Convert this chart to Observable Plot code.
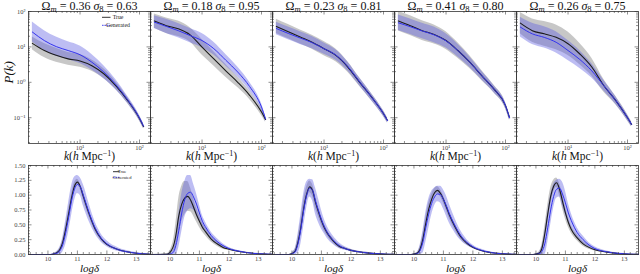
<!DOCTYPE html>
<html><head><meta charset="utf-8">
<script src="https://cdn.jsdelivr.net/npm/d3@7"></script>
<script src="https://cdn.jsdelivr.net/npm/@observablehq/plot@0.6"></script>
<style>
body{margin:0;background:#fff;width:640px;height:274px;overflow:hidden}
#c svg{display:block}
</style></head><body><div id="c"></div>
<script>
// ---------- data ----------
const omegaM = ["0.36", "0.18", "0.23", "0.41", "0.26"];
const sigma8 = ["0.63", "0.95", "0.81", "0.80", "0.75"];
const titles = omegaM.map((o, i) => `Ωm = ${o} σ8 = ${sigma8[i]}`);
const seriesNames = ["True", "Generated"];

// power spectrum (top row)
const kValues = [1.58, 2.51, 3.98, 6.31, 10, 15.8, 25.1, 39.8, 63.1, 100, 117];
const pkTrue = [
  [12.6, 7.9, 5.8, 4.6, 4.0, 2.95, 1.74, 0.81, 0.31, 0.095, 0.056],
  [53.7, 39.8, 32.4, 21.9, 9.8, 4.6, 2.1, 1.0, 0.43, 0.145, 0.089],
  [38.0, 26.9, 19.1, 13.5, 8.9, 5.75, 2.7, 1.0, 0.38, 0.13, 0.083],
  [53.7, 39.8, 28.8, 22.4, 15.1, 7.9, 3.7, 1.55, 0.66, 0.22, 0.10],
  [46.8, 28.8, 23.4, 18.6, 12.3, 6.3, 2.7, 0.81, 0.31, 0.10, 0.065]
];
const pkGen = [
  [26.3, 15.1, 10.2, 7.9, 6.0, 3.7, 1.95, 0.87, 0.32, 0.098, 0.058],
  [50.1, 38.0, 28.8, 20.9, 15.1, 8.9, 4.2, 1.95, 0.76, 0.20, 0.093],
  [33.1, 24.0, 17.8, 13.2, 8.9, 5.9, 2.8, 1.02, 0.38, 0.13, 0.083],
  [47.9, 37.2, 28.2, 21.9, 14.8, 7.9, 3.7, 1.55, 0.66, 0.22, 0.10],
  [36.3, 23.4, 18.6, 13.5, 7.9, 4.4, 2.1, 0.81, 0.31, 0.10, 0.065]
];
// band half-widths in dex
const pkTrueSpread = [
  [0.18, 0.2, 0.2, 0.18, 0.18, 0.16, 0.14, 0.11, 0.09, 0.07, 0.06],
  [0.2, 0.22, 0.22, 0.2, 0.22, 0.2, 0.18, 0.15, 0.12, 0.1, 0.08],
  [0.2, 0.2, 0.2, 0.2, 0.2, 0.18, 0.15, 0.12, 0.1, 0.08, 0.07],
  [0.28, 0.28, 0.28, 0.27, 0.25, 0.22, 0.18, 0.14, 0.11, 0.09, 0.07],
  [0.3, 0.33, 0.35, 0.35, 0.33, 0.3, 0.25, 0.18, 0.12, 0.09, 0.07]
];
const pkGenSpread = [
  [0.28, 0.28, 0.27, 0.25, 0.25, 0.22, 0.18, 0.14, 0.1, 0.08, 0.07],
  [0.18, 0.2, 0.2, 0.2, 0.2, 0.18, 0.16, 0.14, 0.12, 0.1, 0.08],
  [0.18, 0.18, 0.18, 0.17, 0.16, 0.15, 0.13, 0.11, 0.1, 0.08, 0.07],
  [0.22, 0.22, 0.22, 0.22, 0.2, 0.18, 0.15, 0.12, 0.1, 0.08, 0.07],
  [0.28, 0.3, 0.3, 0.3, 0.28, 0.25, 0.2, 0.15, 0.11, 0.08, 0.07]
];

// density PDF (bottom row)
const logDelta = [9.34, 9.9, 10.1, 10.2, 10.3, 10.4, 10.5, 10.6, 10.7, 10.8, 10.9, 11.0, 11.1, 11.2, 11.4, 11.6, 11.8, 12.0, 12.4, 12.8, 13.2, 13.48];
const pdfTrue = [
  [0, 0, 0, 0.01, 0.03, 0.08, 0.2, 0.42, 0.68, 0.95, 1.15, 1.22, 1.14, 0.98, 0.68, 0.43, 0.27, 0.17, 0.08, 0.035, 0.012, 0.004],
  [0, 0.005, 0.12, 0.32, 0.65, 0.85, 0.95, 0.98, 0.92, 0.8, 0.67, 0.56, 0.46, 0.39, 0.26, 0.18, 0.12, 0.09, 0.045, 0.02, 0.008, 0.003],
  [0, 0, 0.05, 0.2, 0.45, 0.78, 1.02, 1.14, 1.08, 0.88, 0.72, 0.57, 0.45, 0.36, 0.23, 0.14, 0.1, 0.07, 0.035, 0.015, 0.005, 0.002],
  [0, 0, 0.02, 0.08, 0.25, 0.52, 0.76, 0.93, 1.04, 1.08, 1.03, 0.93, 0.8, 0.67, 0.46, 0.29, 0.19, 0.12, 0.05, 0.02, 0.007, 0.002],
  [0, 0, 0.02, 0.1, 0.35, 0.68, 0.98, 1.15, 1.21, 1.1, 0.9, 0.7, 0.54, 0.42, 0.28, 0.18, 0.12, 0.08, 0.04, 0.015, 0.005, 0.002]
];
const pdfGen = [
  [0, 0, 0, 0.01, 0.02, 0.06, 0.16, 0.36, 0.62, 0.9, 1.1, 1.18, 1.14, 1.0, 0.7, 0.45, 0.28, 0.18, 0.08, 0.035, 0.012, 0.004],
  [0, 0, 0.03, 0.15, 0.4, 0.7, 0.92, 1.03, 1.05, 0.97, 0.85, 0.7, 0.56, 0.47, 0.32, 0.22, 0.15, 0.1, 0.05, 0.02, 0.008, 0.003],
  [0, 0, 0.04, 0.17, 0.42, 0.75, 1.0, 1.12, 1.08, 0.9, 0.74, 0.59, 0.47, 0.37, 0.24, 0.15, 0.1, 0.07, 0.035, 0.015, 0.005, 0.002],
  [0, 0, 0.01, 0.06, 0.2, 0.45, 0.68, 0.86, 0.97, 1.02, 1.01, 0.93, 0.82, 0.69, 0.48, 0.31, 0.2, 0.13, 0.055, 0.02, 0.007, 0.002],
  [0, 0, 0.01, 0.05, 0.18, 0.45, 0.75, 0.98, 1.1, 1.12, 1.02, 0.87, 0.7, 0.57, 0.37, 0.25, 0.16, 0.1, 0.045, 0.018, 0.006, 0.002]
];
const pdfTrueSpread = [
  [0, 0, 0, 0.005, 0.01, 0.02, 0.04, 0.06, 0.07, 0.07, 0.06, 0.05, 0.05, 0.06, 0.05, 0.04, 0.03, 0.02, 0.01, 0.005, 0.003, 0.001],
  [0, 0.01, 0.08, 0.2, 0.3, 0.3, 0.28, 0.25, 0.2, 0.15, 0.12, 0.1, 0.08, 0.07, 0.05, 0.04, 0.03, 0.02, 0.01, 0.005, 0.003, 0.001],
  [0, 0, 0.03, 0.08, 0.12, 0.14, 0.12, 0.1, 0.1, 0.1, 0.08, 0.07, 0.06, 0.05, 0.04, 0.03, 0.02, 0.015, 0.01, 0.005, 0.002, 0.001],
  [0, 0, 0.01, 0.04, 0.08, 0.1, 0.1, 0.08, 0.07, 0.06, 0.06, 0.06, 0.06, 0.06, 0.05, 0.04, 0.03, 0.02, 0.01, 0.005, 0.002, 0.001],
  [0, 0, 0.02, 0.06, 0.12, 0.15, 0.14, 0.1, 0.08, 0.1, 0.12, 0.1, 0.08, 0.06, 0.05, 0.04, 0.03, 0.02, 0.01, 0.005, 0.002, 0.001]
];
const pdfGenSpread = [
  [0, 0, 0, 0.01, 0.03, 0.06, 0.12, 0.2, 0.25, 0.25, 0.2, 0.15, 0.15, 0.18, 0.15, 0.1, 0.07, 0.05, 0.03, 0.015, 0.006, 0.002],
  [0, 0.005, 0.04, 0.15, 0.28, 0.32, 0.3, 0.3, 0.28, 0.22, 0.18, 0.14, 0.1, 0.08, 0.06, 0.05, 0.03, 0.02, 0.01, 0.005, 0.003, 0.001],
  [0, 0, 0.05, 0.15, 0.25, 0.28, 0.22, 0.15, 0.18, 0.22, 0.2, 0.16, 0.12, 0.1, 0.07, 0.05, 0.03, 0.02, 0.01, 0.005, 0.002, 0.001],
  [0, 0, 0.02, 0.08, 0.18, 0.25, 0.25, 0.2, 0.15, 0.13, 0.14, 0.16, 0.17, 0.16, 0.12, 0.08, 0.05, 0.03, 0.015, 0.006, 0.002, 0.001],
  [0, 0, 0.02, 0.08, 0.18, 0.25, 0.25, 0.2, 0.15, 0.15, 0.2, 0.2, 0.16, 0.12, 0.08, 0.06, 0.04, 0.03, 0.015, 0.006, 0.002, 0.001]
];

// ticks & labels
const pkXTicks = [10, 100];
const pkXTickLabels = ["10¹", "10²"];
const pkXMinor = [2,3,4,5,6,7,8,9,20,30,40,50,60,70,80,90];
const pkYTicks = [0.1, 1, 10, 100];
const pkYTickLabels = ["10⁻¹", "10⁰", "10¹", "10²"];
const pkYMinor = [0.02,0.03,0.04,0.05,0.06,0.07,0.08,0.09,0.2,0.3,0.4,0.5,0.6,0.7,0.8,0.9,2,3,4,5,6,7,8,9,20,30,40,50,60,70,80,90];
const pdfXTicks = [10, 11, 12, 13];
const pdfXTickLabels = ["10", "11", "12", "13"];
const pdfXMinor = [9.4,9.6,9.8,10.2,10.4,10.6,10.8,11.2,11.4,11.6,11.8,12.2,12.4,12.6,12.8,13.2,13.4];
const pdfYTicks = [0, 0.25, 0.5, 0.75, 1.0, 1.25, 1.5];
const pdfYTickLabels = ["0.00", "0.25", "0.50", "0.75", "1.00", "1.25", "1.50"];
const pdfYMinor = [0.05,0.1,0.15,0.2,0.3,0.35,0.4,0.45,0.55,0.6,0.65,0.7,0.8,0.85,0.9,0.95,1.05,1.1,1.15,1.2,1.3,1.35,1.4,1.45];
const kLabel = "k(h Mpc⁻¹)";
const pLabel = "P(k)";
const dLabel = "logδ";

// ---------- style ----------
const GRAY = "#999999", BLUE_FILL = "#5a5ae0", BLACK = "#1c1c1c", BLUE = "#3434ee";
const FONT = "'Liberation Serif', 'DejaVu Serif', serif";
const ML = 28, MR = 2, PW = 122;

const topRows = [];
omegaM.forEach((t, i) => kValues.forEach((k, j) => {
  topRows.push({
    panel: i, k,
    t: pkTrue[i][j], g: pkGen[i][j],
    tLo: pkTrue[i][j] / 10 ** pkTrueSpread[i][j], tHi: pkTrue[i][j] * 10 ** pkTrueSpread[i][j],
    gLo: pkGen[i][j] / 10 ** pkGenSpread[i][j], gHi: pkGen[i][j] * 10 ** pkGenSpread[i][j]
  });
}));
const botRows = [];
omegaM.forEach((t, i) => logDelta.forEach((x, j) => {
  botRows.push({
    panel: i, x,
    t: pdfTrue[i][j], g: pdfGen[i][j],
    tLo: Math.max(0, pdfTrue[i][j] - pdfTrueSpread[i][j]), tHi: pdfTrue[i][j] + pdfTrueSpread[i][j],
    gLo: Math.max(0, pdfGen[i][j] - pdfGenSpread[i][j]), gHi: pdfGen[i][j] + pdfGenSpread[i][j]
  });
}));

function inwardTicks(xMaj, xMin, yMaj, yMin, fh) {
  const tk = {stroke: "#444", strokeWidth: 0.6};
  return [
    Plot.tickX(xMaj, {x: d => d, insetTop: fh - 3.5, ...tk}),
    Plot.tickX(xMaj, {x: d => d, insetBottom: fh - 3.5, ...tk}),
    Plot.tickX(xMin, {x: d => d, insetTop: fh - 2, ...tk}),
    Plot.tickX(xMin, {x: d => d, insetBottom: fh - 2, ...tk}),
    Plot.tickY(yMaj, {y: d => d, insetRight: PW - 3.5, ...tk}),
    Plot.tickY(yMaj, {y: d => d, insetLeft: PW - 3.5, ...tk}),
    Plot.tickY(yMin, {y: d => d, insetRight: PW - 2, ...tk}),
    Plot.tickY(yMin, {y: d => d, insetLeft: PW - 2, ...tk})
  ];
}

const TOP_H = 163, TOP_MT = 11, TOP_MB = 20;
const topPlot = Plot.plot({
  width: 640, height: TOP_H, marginTop: TOP_MT, marginBottom: TOP_MB, marginLeft: ML, marginRight: MR,
  style: {fontFamily: FONT, fontSize: "6.5px", background: "transparent", color: "#222", overflow: "visible"},
  fx: {domain: d3.range(omegaM.length), padding: 0},
  x: {type: "log", domain: [1.36, 153]},
  y: {type: "log", domain: [0.0187, 100]},
  marks: [
    Plot.areaY(topRows, {fx: "panel", x: "k", y1: "tLo", y2: "tHi", fill: GRAY, fillOpacity: 0.55, curve: "monotone-x"}),
    Plot.areaY(topRows, {fx: "panel", x: "k", y1: "gLo", y2: "gHi", fill: BLUE_FILL, fillOpacity: 0.4, curve: "monotone-x"}),
    Plot.lineY(topRows, {fx: "panel", x: "k", y: "t", stroke: BLACK, strokeWidth: 1.1, curve: "monotone-x"}),
    Plot.lineY(topRows, {fx: "panel", x: "k", y: "g", stroke: BLUE, strokeWidth: 1, curve: "monotone-x"}),
    ...inwardTicks(pkXTicks, pkXMinor, pkYTicks, pkYMinor, TOP_H - TOP_MT - TOP_MB),
    Plot.frame({stroke: "#333", strokeWidth: 0.8}),
    Plot.axisX({ticks: pkXTicks, tickFormat: d => pkXTickLabels[pkXTicks.indexOf(d)], tickSize: 0, tickPadding: 1.5, label: null, fill: "#444"}),
    Plot.axisY({ticks: pkYTicks, tickFormat: d => pkYTickLabels[pkYTicks.indexOf(d)], tickSize: 0, tickPadding: 3, label: null, fill: "#444"}),
    Plot.axisFx({anchor: "top", tickSize: 0, tickPadding: 1.5, tickFormat: i => titles[i], label: null, fontSize: 12, fill: "#111"}),
    Plot.text([kLabel], {text: d => d, frameAnchor: "bottom", dy: 16.5, fontSize: 11.5, fill: "#111"}),
    Plot.text([pLabel], {fx: () => 0, text: d => d, frameAnchor: "left", dx: -20, dy: 6, rotate: -90, fontSize: 13, fontStyle: "italic", fill: "#111"})
  ]
});

const BOT_H = 111, BOT_MT = 2, BOT_MB = 20;
const botPlot = Plot.plot({
  width: 640, height: BOT_H, marginTop: BOT_MT, marginBottom: BOT_MB, marginLeft: ML, marginRight: MR,
  style: {fontFamily: FONT, fontSize: "6.5px", background: "transparent", color: "#222"},
  fx: {domain: d3.range(omegaM.length), padding: 0, axis: null},
  x: {domain: [9.34, 13.48]},
  y: {domain: [0, 1.5]},
  marks: [
    Plot.areaY(botRows, {fx: "panel", x: "x", y1: "tLo", y2: "tHi", fill: GRAY, fillOpacity: 0.55, curve: "monotone-x"}),
    Plot.areaY(botRows, {fx: "panel", x: "x", y1: "gLo", y2: "gHi", fill: BLUE_FILL, fillOpacity: 0.4, curve: "monotone-x"}),
    Plot.lineY(botRows, {fx: "panel", x: "x", y: "t", stroke: BLACK, strokeWidth: 1.1, curve: "monotone-x"}),
    Plot.lineY(botRows, {fx: "panel", x: "x", y: "g", stroke: BLUE, strokeWidth: 1, curve: "monotone-x"}),
    ...inwardTicks(pdfXTicks, pdfXMinor, pdfYTicks, pdfYMinor, BOT_H - BOT_MT - BOT_MB),
    Plot.frame({stroke: "#333", strokeWidth: 0.8}),
    Plot.axisX({ticks: pdfXTicks, tickFormat: d => pdfXTickLabels[pdfXTicks.indexOf(d)], tickSize: 0, tickPadding: 1.5, label: null, fill: "#444"}),
    Plot.axisY({ticks: pdfYTicks, tickFormat: d => pdfYTickLabels[pdfYTicks.indexOf(d)], tickSize: 0, tickPadding: 3, label: null, fill: "#444"}),
    Plot.text([dLabel], {text: d => d, frameAnchor: "bottom", dy: 14.5, fontSize: 11, fontStyle: "italic", fill: "#111", lineAnchor: "top", dy: 9.5})
  ]
});

const c = document.getElementById("c");
c.appendChild(topPlot);
c.appendChild(botPlot);

// rich text: subscripts / italics / superscripts
d3.select(topPlot).selectAll("text").each(function () {
  const el = d3.select(this);
  const s = this.textContent;
  const i = titles.indexOf(s);
  if (i >= 0) {
    el.text(null);
    el.append("tspan").text("Ω");
    el.append("tspan").attr("font-style", "italic").attr("font-size", "8.5px").attr("dy", 2).text("m");
    el.append("tspan").attr("dy", -2).text(` = ${omegaM[i]} `);
    el.append("tspan").attr("font-style", "italic").text("σ");
    el.append("tspan").attr("font-size", "8.5px").attr("dy", 2).text("8");
    el.append("tspan").attr("dy", -2).text(` = ${sigma8[i]}`);
  } else if (s === kLabel) {
    el.text(null);
    el.append("tspan").attr("font-style", "italic").text("k");
    el.append("tspan").text("(");
    el.append("tspan").attr("font-style", "italic").text("h");
    el.append("tspan").text(" Mpc");
    el.append("tspan").attr("font-size", "8px").attr("dy", -4).text("−1");
    el.append("tspan").attr("dy", 4).text(")");
  }
});

// legends (inside first panel, top-right)
function legend(svgNode, x1, x2, tx, ys, fs) {
  const g = d3.select(svgNode).append("g").attr("font-family", FONT).attr("font-size", fs);
  const cols = [BLACK, BLUE];
  seriesNames.forEach((name, i) => {
    g.append("line").attr("x1", x1).attr("x2", x2).attr("y1", ys[i]).attr("y2", ys[i])
      .attr("stroke", cols[i]).attr("stroke-width", 0.9)
      .attr("stroke-dasharray", i === 1 ? "1.6,0.8" : null);
    g.append("text").attr("x", tx).attr("y", ys[i]).attr("dy", "0.35em").attr("fill", "#222").text(name);
  });
}
legend(topPlot, ML + PW - 48, ML + PW - 39.5, ML + PW - 32, [TOP_MT + 6.3, TOP_MT + 14.3], 5.8);
legend(botPlot, ML + PW - 37, ML + PW - 30.5, ML + PW - 28, [BOT_MT + 6.7, BOT_MT + 12.3], 4.6);
</script>
</body></html>
